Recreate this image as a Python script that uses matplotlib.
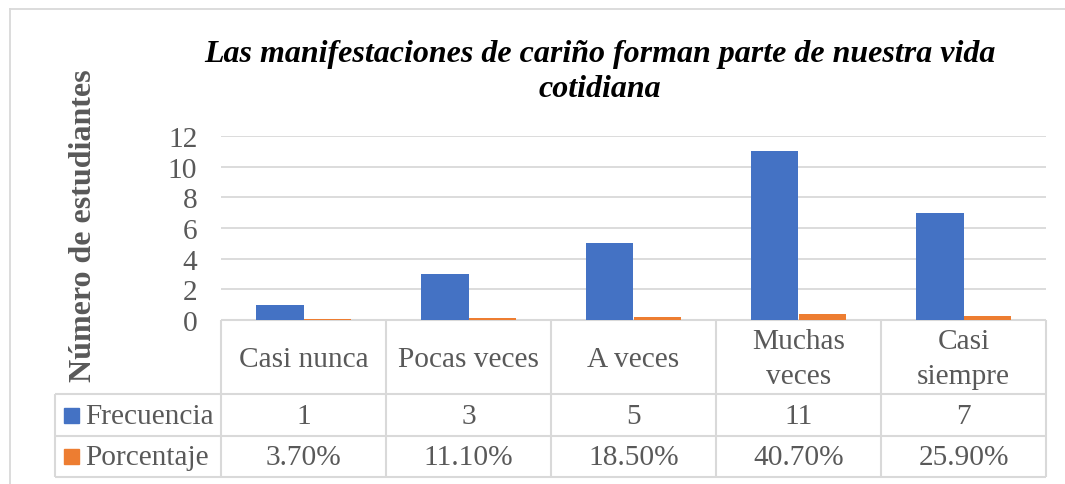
import matplotlib
matplotlib.use("Agg")
import matplotlib.pyplot as plt
from matplotlib.transforms import blended_transform_factory

categories = ["Casi nunca", "Pocas veces", "A veces", "Muchas\nveces", "Casi\nsiempre"]
frecuencia = [1, 3, 5, 11, 7]
porcentaje = [0.037, 0.111, 0.185, 0.407, 0.259]
porcentaje_labels = ["3.70%", "11.10%", "18.50%", "40.70%", "25.90%"]
series_names = ["Frecuencia", "Porcentaje"]
yticks = [0, 2, 4, 6, 8, 10, 12]

BLUE = "#4472C4"
ORANGE = "#ED7D31"
GRID = "#D9D9D9"
TXT = "#595959"
FONT = "Liberation Serif"
FS = 21.2

W, H = 1065, 485
fig = plt.figure(figsize=(W / 100, H / 100), dpi=100)

# overlay in pixel coordinates
ov = fig.add_axes([0, 0, 1, 1])
ov.set_xlim(0, W)
ov.set_ylim(H, 0)
ov.axis("off")

L, R, T, B = 221, 1046, 137, 321
ax = fig.add_axes([L / W, (H - B) / H, (R - L) / W, (B - T) / H])
ax.set_xlim(-0.5, len(categories) - 0.5)
ax.set_ylim(0, 12)
ax.set_yticks(yticks)
ax.set_yticklabels([str(t) for t in yticks], fontfamily=FONT, fontsize=FS, color=TXT)
ax.tick_params(axis="y", length=0, pad=17)
ax.set_xticks([])
for s in ax.spines.values():
    s.set_visible(False)
ax.grid(axis="y", color=GRID, linewidth=1.3)
ax.set_axisbelow(True)
ax.patch.set_alpha(0)

bw = 0.285
x = list(range(len(categories)))
ax.bar([i - bw / 2 for i in x], frecuencia, width=bw, color=BLUE, zorder=3)
ax.bar([i + bw / 2 for i in x], porcentaje, width=bw, color=ORANGE, zorder=3)

# border of chart area
ov.plot([9.5, 9.5], [10, H], color=GRID, lw=1.3)
ov.plot([9.5, W], [10, 10], color=GRID, lw=1.3)

# data table
row1, row2, row3 = 395, 437, 478
lc = dict(color=GRID, lw=1.5, solid_capstyle="butt")
ov.plot([L, R], [B, B], **lc)
for yy in (row1, row2, row3):
    ov.plot([55, R], [yy, yy], **lc)
ov.plot([55, 55], [row1, row3], **lc)
bt = blended_transform_factory(ax.transData, ov.transData)
for k in range(len(categories) + 1):
    ov.plot([k - 0.5, k - 0.5], [B, row3], transform=bt, **lc)

for i, c in enumerate(categories):
    ov.text(i, (B + row1) / 2 + 2, c, transform=bt, ha="center", va="center",
            fontfamily=FONT, fontsize=FS, color=TXT, linespacing=1.45)
    ov.text(i, (row1 + row2) / 2 + 1, str(frecuencia[i]), transform=bt, ha="center",
            va="center", fontfamily=FONT, fontsize=FS, color=TXT)
    ov.text(i, (row2 + row3) / 2 + 1, porcentaje_labels[i], transform=bt, ha="center",
            va="center", fontfamily=FONT, fontsize=FS, color=TXT)

for name, col, (y0, y1) in zip(series_names, [BLUE, ORANGE], [(row1, row2), (row2, row3)]):
    ym = (y0 + y1) / 2
    ov.add_patch(plt.Rectangle((64, ym - 7.5), 15, 15, color=col))
    ov.text(85, ym + 1, name, ha="left", va="center", fontfamily=FONT, fontsize=FS, color=TXT)

# title & y label
ov.text(600, 72, "Las manifestaciones de cariño forman parte de nuestra vida\ncotidiana",
        ha="center", va="center", fontfamily=FONT, fontsize=23, fontweight="bold",
        fontstyle="italic", color="black", linespacing=1.25)
ov.text(84, 226, "Número de estudiantes", rotation=90, ha="center", va="center",
        fontfamily=FONT, fontsize=23, fontweight="bold", color=TXT)

fig.savefig("out.png", dpi=100)
